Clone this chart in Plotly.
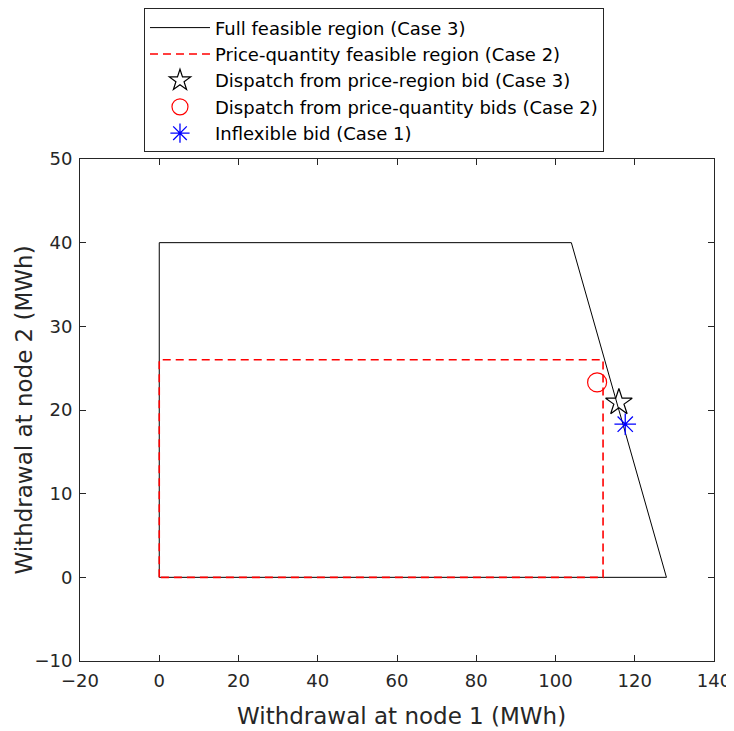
import plotly.graph_objects as go

full_x = [0, 0, 104, 128, 0]
full_y = [0, 40, 40, 0, 0]
pq_x = [0, 0, 112, 112, 0]
pq_y = [0, 26, 26, 0, 0]
star_pt = ([116.0], [20.9])
circ_pt = ([110.5], [23.3])
ast_pt = ([117.6], [18.3])
x_ticks = [-20, 0, 20, 40, 60, 80, 100, 120, 140]
y_ticks = [-10, 0, 10, 20, 30, 40, 50]

fig = go.Figure()
fig.add_trace(go.Scatter(x=full_x, y=full_y, mode="lines", line=dict(color="black", width=1),
                         name="Full feasible region (Case 3)"))
fig.add_trace(go.Scatter(x=pq_x, y=pq_y, mode="lines", line=dict(color="red", width=1.6, dash="8px,5px"),
                         name="Price-quantity feasible region (Case 2)"))
fig.add_trace(go.Scatter(x=star_pt[0], y=star_pt[1], mode="markers",
                         marker=dict(symbol="star-open", size=20, color="black", line=dict(width=1.2)),
                         name="Dispatch from price-region bid (Case 3)"))
fig.add_trace(go.Scatter(x=circ_pt[0], y=circ_pt[1], mode="markers",
                         marker=dict(symbol="circle-open", size=19, color="red", line=dict(width=1.2)),
                         name="Dispatch from price-quantity bids (Case 2)"))
fig.add_trace(go.Scatter(x=ast_pt[0], y=ast_pt[1], mode="markers",
                         marker=dict(symbol="asterisk-open", size=18, color="blue", line=dict(width=1.3, color="blue")),
                         name="Inflexible bid (Case 1)"))

axis_common = dict(showline=True, linecolor="#262626", linewidth=1, mirror="ticks", ticks="inside",
                   ticklen=6, tickcolor="#262626", showgrid=False, zeroline=False, automargin=False,
                   ticklabelstandoff=3, tickfont=dict(size=18, color="#262626"))
fig.update_xaxes(range=[-20, 140], tickvals=x_ticks, **axis_common)
fig.update_yaxes(range=[-10, 50], tickvals=y_ticks, **axis_common)

fig.add_annotation(text="Withdrawal at node 1 (MWh)", xref="paper", yref="paper", x=0.507, y=-0.1096,
                   xanchor="center", yanchor="middle", showarrow=False,
                   font=dict(size=23, color="#262626"))
fig.add_annotation(text="Withdrawal at node 2 (MWh)", xref="paper", yref="paper", x=-0.0891, y=0.5,
                   xanchor="center", yanchor="middle", showarrow=False, textangle=-90,
                   font=dict(size=23, color="#262626"))

fig.update_layout(
    width=726, height=723,
    margin=dict(l=72, r=20, t=151, b=70, autoexpand=False),
    paper_bgcolor="white", plot_bgcolor="white",
    font=dict(family="DejaVu Sans", color="#262626"),
    showlegend=True,
    legend=dict(x=0.4637, xanchor="center", y=1.3, yanchor="top",
                bgcolor="white", bordercolor="#262626", borderwidth=1,
                font=dict(size=18, color="black"), itemwidth=60, tracegroupgap=0),
)
fig.write_html("out.html")
